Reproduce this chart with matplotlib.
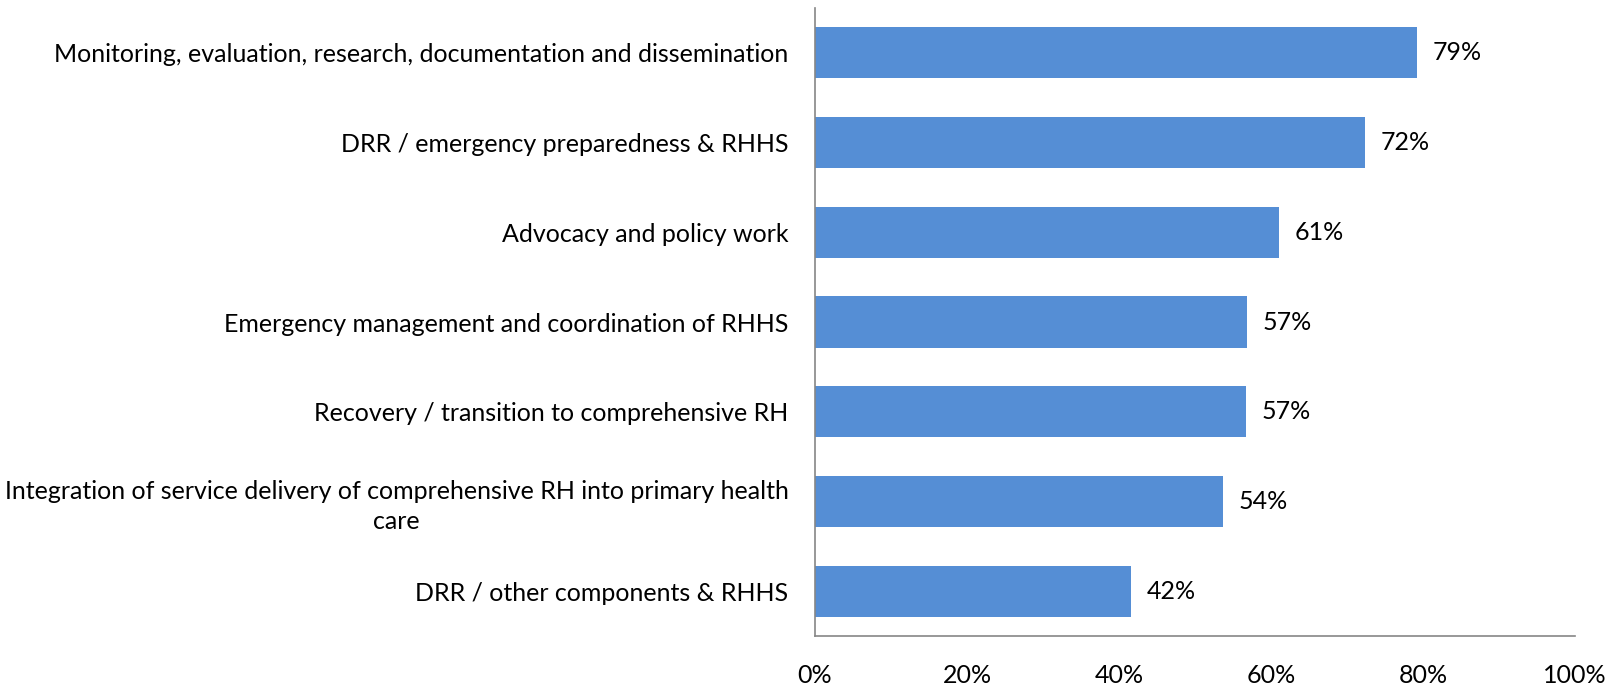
import matplotlib
matplotlib.use("Agg")
import matplotlib.pyplot as plt
from matplotlib.ticker import FuncFormatter

categories = [
    "Monitoring, evaluation, research, documentation and dissemination",
    "DRR / emergency preparedness & RHHS",
    "Advocacy and policy work",
    "Emergency management and coordination of RHHS",
    "Recovery / transition to comprehensive RH",
    "Integration of service delivery of comprehensive RH into primary health\ncare",
    "DRR / other components & RHHS",
]
values = [79.2, 72.4, 61.1, 56.9, 56.7, 53.7, 41.6]
xticks = [0, 20, 40, 60, 80, 100]

plt.rcParams['font.family'] = ['Lato', 'DejaVu Sans']
FS = 18

fig = plt.figure(figsize=(16.19, 6.84), dpi=100)
ax = fig.add_axes([815/1619, 1 - 636/684, (1575 - 815)/1619, (636 - 8)/684])

y = list(range(len(categories)))
ax.barh(y, values, height=0.57, color="#558ED5", zorder=2)
for yi, v in zip(y, values):
    ax.annotate(f"{round(v):d}%", xy=(v, yi), xytext=(11, 0), textcoords="offset points",
                va="center", ha="left", fontsize=FS, color="black")

ax.set_ylim(len(categories) - 0.5, -0.5)
ax.set_xlim(0, 100)
ax.set_xticks(xticks)
ax.xaxis.set_major_formatter(FuncFormatter(lambda v, p: f"{v:.0f}%"))
ax.set_yticks(y)
ax.set_yticklabels(categories, fontsize=FS, multialignment="center", linespacing=1.35)
ax.tick_params(axis="y", length=0, pad=19)
ax.tick_params(axis="x", length=0, pad=20, labelsize=FS)
for s in ["top", "right"]:
    ax.spines[s].set_visible(False)
for s in ["left", "bottom"]:
    ax.spines[s].set_color("#868686")
    ax.spines[s].set_linewidth(1.2)

fig.savefig("out.png", dpi=100)
